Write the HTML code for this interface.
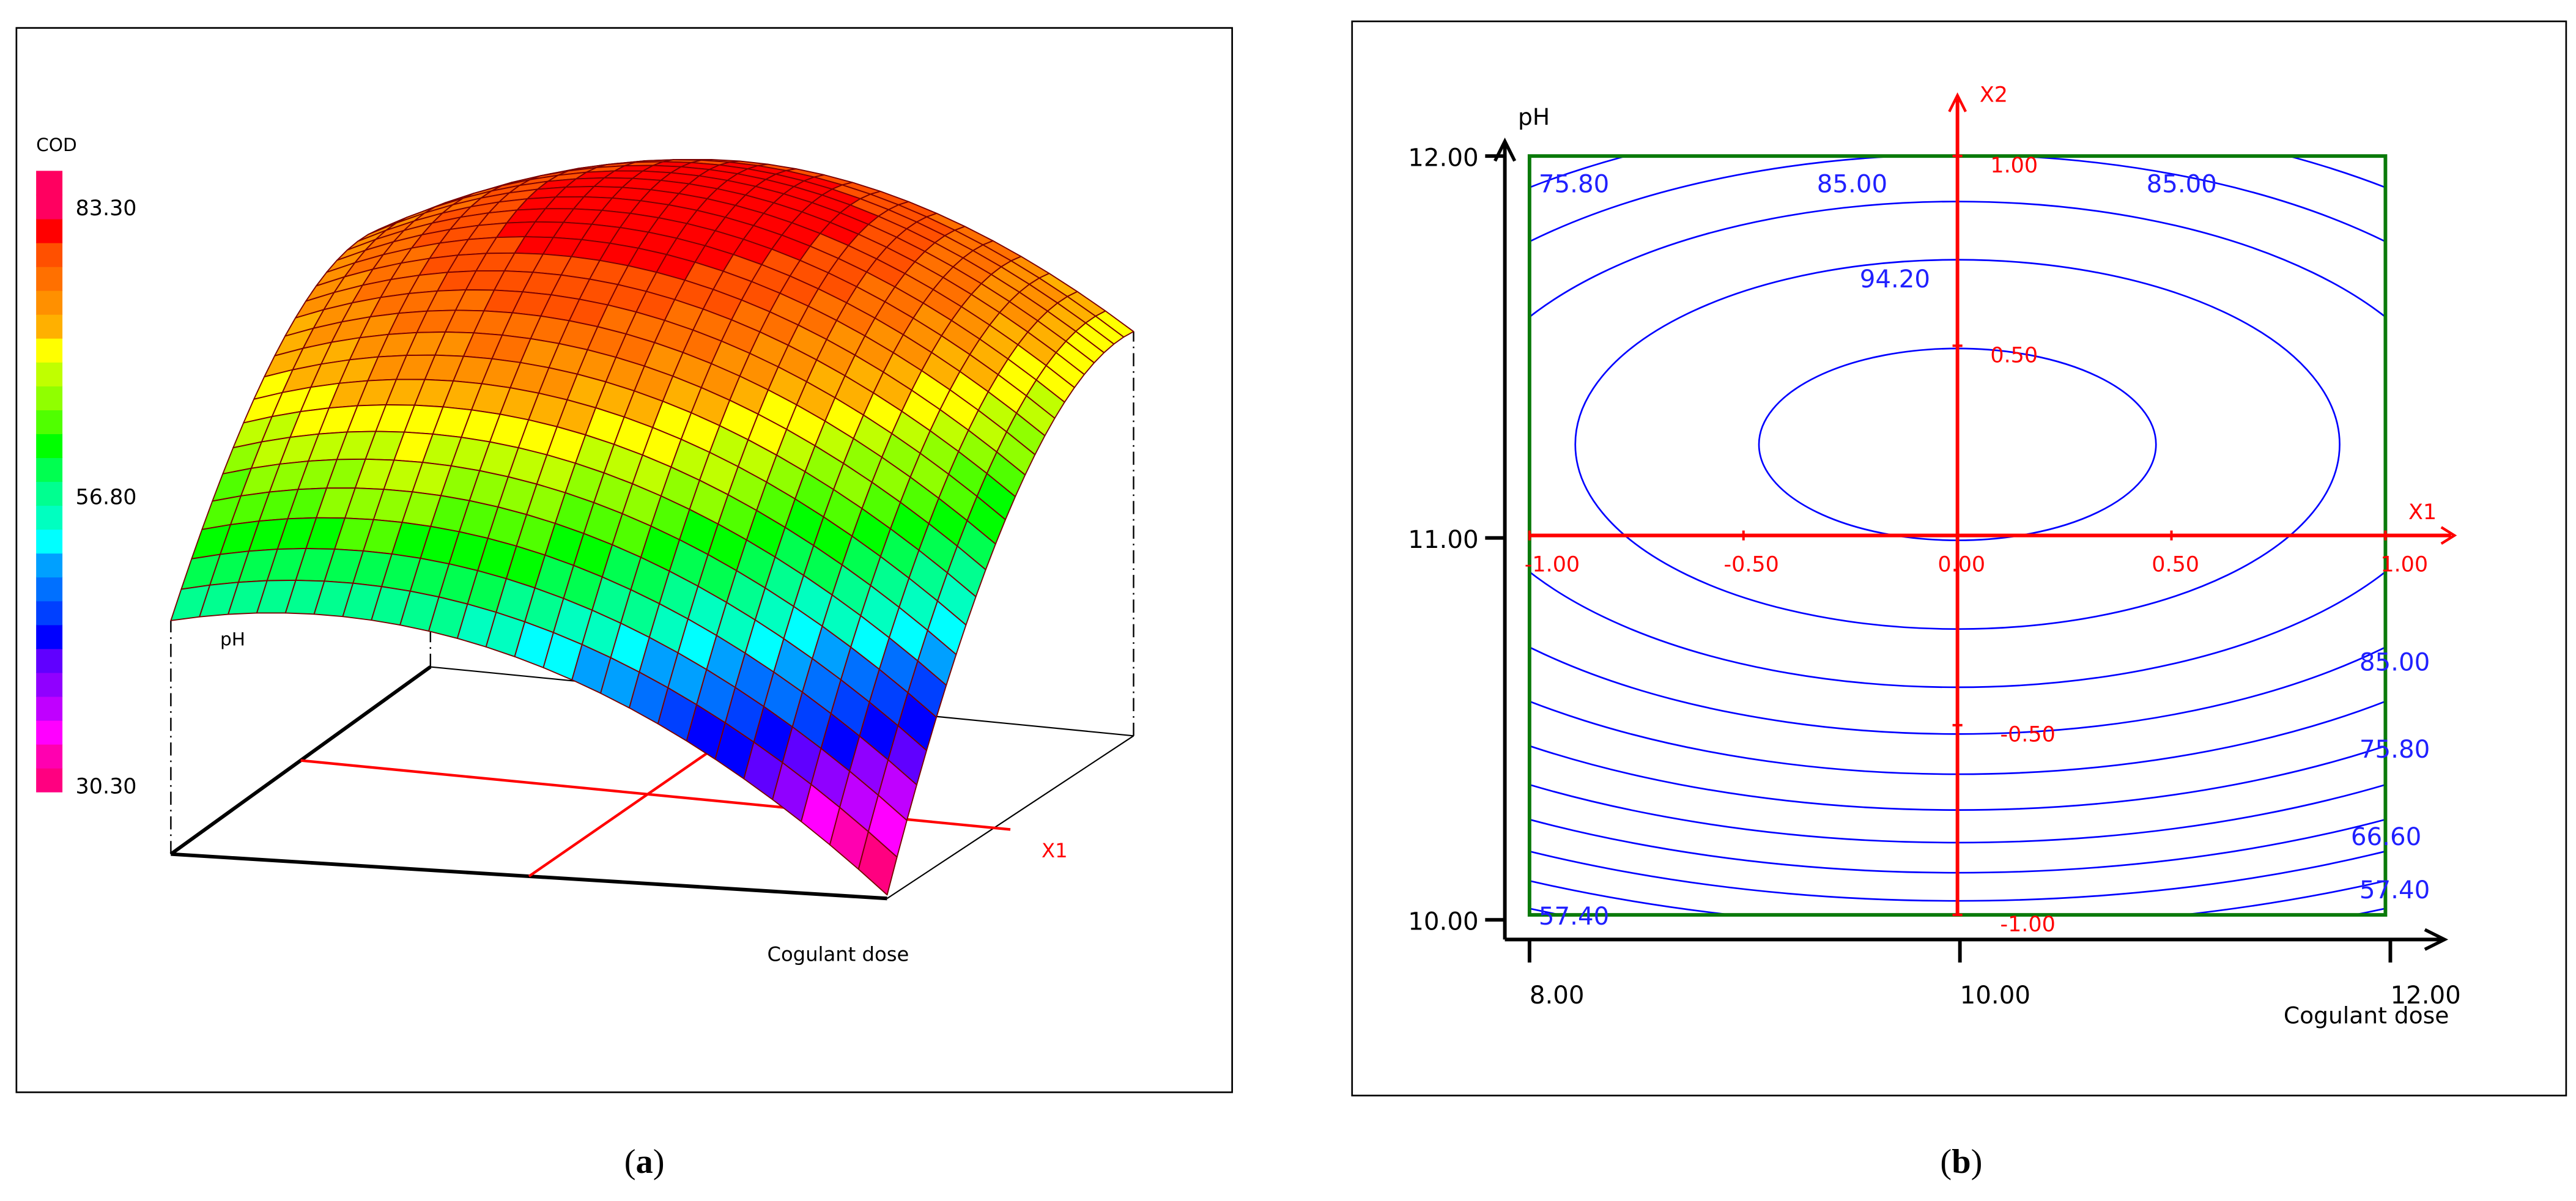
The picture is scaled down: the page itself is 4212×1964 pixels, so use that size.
<!DOCTYPE html>
<html><head><meta charset="utf-8"><style>
html,body{margin:0;padding:0;background:#fff;}
svg{display:block;}
text{font-family:"DejaVu Sans","Liberation Sans",sans-serif;}
</style></head><body>
<svg id="fig" width="4212" height="1964" viewBox="0 0 1568 731.2" preserveAspectRatio="none" xmlns="http://www.w3.org/2000/svg">
<rect x="0" y="0" width="1568" height="731.2" fill="#fff"/>
<g id="panelA">
  <rect x="10" y="17" width="740" height="648" fill="#fff" stroke="#000" stroke-width="1"/>
  <text x="22" y="92" font-size="11" fill="#000">COD</text>
  <g id="cbar"></g>
  <text x="46" y="131" font-size="13" fill="#000">83.30</text>
  <text x="46" y="307" font-size="13" fill="#000">56.80</text>
  <text x="46" y="483" font-size="13" fill="#000">30.30</text>
  <g id="base3d"></g>
  <g id="surf"></g>
  <text x="134" y="393" font-size="11" fill="#000">pH</text>
  <text x="634" y="522" font-size="12" fill="#f00">X1</text>
  <text x="467" y="585" font-size="12" fill="#000">Cogulant dose</text>
  <text x="380" y="714" font-size="21" fill="#000" style="font-family:'Liberation Serif',serif">(<tspan font-weight="bold">a</tspan>)</text>
</g>
<g id="panelB">
  <rect x="823" y="13" width="739" height="654" fill="#fff" stroke="#000" stroke-width="1"/>
  <defs><clipPath id="plotClip"><rect x="931" y="95" width="521" height="462"/></clipPath></defs>
  <g id="contours" clip-path="url(#plotClip)"></g>
  <rect x="931" y="95" width="521" height="462" fill="none" stroke="#0a7a0a" stroke-width="2.2"/>
  <g id="axesB"></g>
  <g id="clabels"></g>
  <text x="1181" y="714" font-size="21" fill="#000" style="font-family:'Liberation Serif',serif">(<tspan font-weight="bold">b</tspan>)</text>
</g>
</svg>
<script>
// ---- Data ----
var paletteColors = ["#ff0080","#ff00b0","#ff00ff","#c000ff","#9000ff","#6000ff","#0000ff","#0040ff","#0070ff","#00a0ff","#00ffff","#00ffc0","#00ff90","#00ff50","#00ff00","#50ff00","#90ff00","#c0ff00","#ffff00","#ffb000","#ff9000","#ff7000","#ff5000","#ff0000","#ff0060","#ff0060"];
var surfPeak = [85, 0.45, 0.75];      // peak COD, u, v
var surfCoef = [44.5, 50.8, -29.7];   // A, B, C
var contourPeak = [100.5, 0.0, 0.24]; // value, x1, x2
var contourCoef = [7.9, 26.6];
var contourLevels = [98.8,94.2,89.6,85.0,80.4,75.8,71.2,66.6,62.0,57.4,52.8,48.2];
var xTickValues = [8, 10, 12];
var yTickValues = [10, 11, 12];
var x1Ticks = [-1,-0.5,0,0.5,1];
var x1TickLabels = ["-1.00","-0.50","0.00","0.50","1.00"];
var x2Ticks = [1,0.5,-0.5,-1];
var x2TickLabels = ["1.00","0.50","-0.50","-1.00"];
var contourLabelText = ["75.80","85.00","85.00","94.20","85.00","75.80","66.60","57.40","57.40"];
var contourLabelX1 = [-0.99,-0.34,0.43,-0.24,0.97,0.97,0.95,0.97,-0.99];
var contourLabelX2 = [0.93,0.93,0.93,0.68,-0.33,-0.56,-0.79,-0.93,-1.0];

var NS="http://www.w3.org/2000/svg";
function mk(tag, attrs, parent){var e=document.createElementNS(NS,tag);for(var k in attrs)e.setAttribute(k,attrs[k]);parent.appendChild(e);return e;}

// ---- Colorbar ----
var cbar=document.getElementById('cbar');
var cbTop=104, cbBot=482, zMin=29.7, zMax=86.6;
var nb=paletteColors.length, bh=(cbBot-cbTop)/nb;
for(var i=0;i<nb;i++){
  var r=mk('rect',{x:22,y:(cbBot-(i+1)*bh).toFixed(2),width:16,height:(bh+0.4).toFixed(2),fill:paletteColors[i]},cbar);
  
  
}
var colorShift = -3;
function colorFor(z){var t=(z+colorShift-zMin)/(zMax-zMin);var idx=Math.floor(t*nb);idx=Math.max(0,Math.min(nb-1,idx));return paletteColors[idx];}

// ---- 3D projection ----
var FL=[104,520],FR=[540,547],BL=[262,406],BR=[690,448];
function base(u,v){
  return [FL[0]+u*(FR[0]-FL[0])+v*(BL[0]-FL[0])+u*v*(BR[0]-BL[0]-FR[0]+FL[0]),
          FL[1]+u*(FR[1]-FL[1])+v*(BL[1]-FL[1])+u*v*(BR[1]-BL[1]-FR[1]+FL[1])];
}
var zBase=30.3;
function kz(u,v){return 5.24+1.5*v-0.9*u*v;}
function zval(u,v){var du=u-surfPeak[1],dv=v-surfPeak[2];return surfPeak[0]-surfCoef[0]*du*du-surfCoef[1]*dv*dv-surfCoef[2]*du*dv;}
function proj(u,v,z){var b=base(u,v);return [b[0],b[1]-Math.max(0,z-zBase)*kz(u,v)];}

var bg=document.getElementById('base3d');
function line(p,q,attrs,parent,name){var l=mk('line',Object.assign({x1:p[0],y1:p[1],x2:q[0],y2:q[1]},attrs),parent);return l;}
line(BL,BR,{stroke:'#000','stroke-width':0.8},bg,'base-back-edge');
line(BR,FR,{stroke:'#000','stroke-width':0.8},bg,'base-right-edge');
line(FL,FR,{stroke:'#000','stroke-width':2.2},bg,'dose-axis-3d');
line(FL,BL,{stroke:'#000','stroke-width':2.2},bg,'ph-axis-3d');
line(base(0,0.5),[615,505],{stroke:'#f00','stroke-width':1.6},bg,'x1-axis-3d');
line(base(0.5,0),base(0.5,1),{stroke:'#f00','stroke-width':1.6},bg,'x2-axis-3d');
var dash={stroke:'#000','stroke-width':0.9,'stroke-dasharray':'8 3 1 3'};
line(FL,proj(0,0,zval(0,0)),dash,bg,'corner-line-front-left');
line(BL,proj(0,1,zval(0,1)),dash,bg,'corner-line-back-left');
line(BR,proj(1,1,zval(1,1)),dash,bg,'corner-line-back-right');

// ---- Surface ----
var sg=document.getElementById('surf');
var N=25, cells=[];
for(var i=0;i<N;i++)for(var j=0;j<N;j++){
  var u0=i/N,u1=(i+1)/N,v0=j/N,v1=(j+1)/N;
  cells.push({u0:u0,u1:u1,v0:v0,v1:v1,d:(v0+v1)/2-0.25*(u0+u1)/2});
}
cells.sort(function(a,b){return b.d-a.d;});
cells.forEach(function(c){
  var pts=[[c.u0,c.v0],[c.u1,c.v0],[c.u1,c.v1],[c.u0,c.v1]].map(function(p){return proj(p[0],p[1],zval(p[0],p[1]));});
  var zc=zval((c.u0+c.u1)/2,(c.v0+c.v1)/2);
  var pg=mk('polygon',{points:pts.map(function(p){return p[0].toFixed(2)+','+p[1].toFixed(2);}).join(' '),fill:colorFor(zc),stroke:'#7a0000','stroke-width':0.7,'stroke-linejoin':'round'},sg);
  
  
});

// ---- Contour plot axes ----
var PX0=931,PX1=1452,PY0=557,PY1=95;
function sx1(x1){return PX0+(x1+1)/2*(PX1-PX0);}
function sx2(x2){return PY0-(x2+1)/2*(PY0-PY1);}
function sDose(d){return 931+(d-8)/4*(1455-931);}
function sPH(p){return 560-(p-10)/2*(560-95);}
var cg=document.getElementById('contours');
contourLevels.forEach(function(L){
  var rx2=(contourPeak[0]-L)/contourCoef[0], ry2=(contourPeak[0]-L)/contourCoef[1];
  if(rx2<=0)return;
  var rx=Math.sqrt(rx2), ry=Math.sqrt(ry2);
  var cx=sx1(contourPeak[1]), cy=sx2(contourPeak[2]);
  var e=mk('ellipse',{cx:cx,cy:cy,rx:rx*(PX1-PX0)/2,ry:ry*(PY0-PY1)/2,fill:'none',stroke:'#0000ff','stroke-width':1},cg);
  
  
});
var ax=document.getElementById('axesB');
line([916,572],[916,88],{stroke:'#000','stroke-width':2.2},ax,'y-axis');
mk('path',{d:'M910,98 L916,86 L922,98',fill:'none',stroke:'#000','stroke-width':2},ax);
line([916,572],[1486,572],{stroke:'#000','stroke-width':2.2},ax,'x-axis');
mk('path',{d:'M1476,566 L1488,572 L1476,578',fill:'none',stroke:'#000','stroke-width':2},ax);
yTickValues.forEach(function(p){
  var y=sPH(p);
  line([904,y],[916,y],{stroke:'#000','stroke-width':2.2},ax,'y-tick');
  var t=mk('text',{x:900,y:y+6,'font-size':15,'text-anchor':'end',fill:'#000'},ax);t.textContent=p.toFixed(2);
  
});
xTickValues.forEach(function(d){
  var x=sDose(d);
  line([x,572],[x,586],{stroke:'#000','stroke-width':2.2},ax,'x-tick');
  var t=mk('text',{x:x,y:611,'font-size':15,fill:'#000'},ax);t.textContent=d.toFixed(2);
  
});
var t1=mk('text',{x:1390,y:623,'font-size':14,fill:'#000'},ax);t1.textContent='Cogulant dose';

var t2=mk('text',{x:924,y:76,'font-size':14,fill:'#000'},ax);t2.textContent='pH';

// red coded axes
line([PX0,sx2(0)],[1492,sx2(0)],{stroke:'#f00','stroke-width':2.2},ax,'x1-axis');
mk('path',{d:'M1486,'+(sx2(0)-5)+' L1494,'+sx2(0)+' L1486,'+(sx2(0)+5),fill:'none',stroke:'#f00','stroke-width':1.6},ax);
line([sx1(0),PY0],[sx1(0),60],{stroke:'#f00','stroke-width':2.2},ax,'x2-axis');
mk('path',{d:'M'+(sx1(0)-5)+',68 L'+sx1(0)+',58 L'+(sx1(0)+5)+',68',fill:'none',stroke:'#f00','stroke-width':1.6},ax);
var tx=mk('text',{x:1466,y:316,'font-size':13,fill:'#f00'},ax);tx.textContent='X1';
var ty=mk('text',{x:1205,y:62,'font-size':13,fill:'#f00'},ax);ty.textContent='X2';
x1Ticks.forEach(function(v,i){
  var x=sx1(v);
  line([x,sx2(0)-3],[x,sx2(0)+3],{stroke:'#f00','stroke-width':1.5},ax,'x1-tick');
  var t=mk('text',{x:x+(i==0?-3:i==4?-3:-12),y:sx2(0)+22,'font-size':13,fill:'#f00'},ax);t.textContent=x1TickLabels[i];
  
});
x2Ticks.forEach(function(v,i){
  var y=sx2(v);
  line([sx1(0)-3,y],[sx1(0)+3,y],{stroke:'#f00','stroke-width':1.5},ax,'x2-tick');
  var t=mk('text',{x:sx1(0)+(v<0?26:20),y:y+10,'font-size':13,fill:'#f00'},ax);t.textContent=x2TickLabels[i];
  
});
// contour labels
var cl=document.getElementById('clabels');
contourLabelText.forEach(function(s,i){
  var x=sx1(contourLabelX1[i]), y=sx2(contourLabelX2[i]);
  var xx=contourLabelX1[i]>0.9? x-8 : x+3;
  var t=mk('text',{x:xx,y:y+6,'font-size':15,fill:'#2020ff'},cl);t.textContent=s;
  
});
</script>
</body></html>
